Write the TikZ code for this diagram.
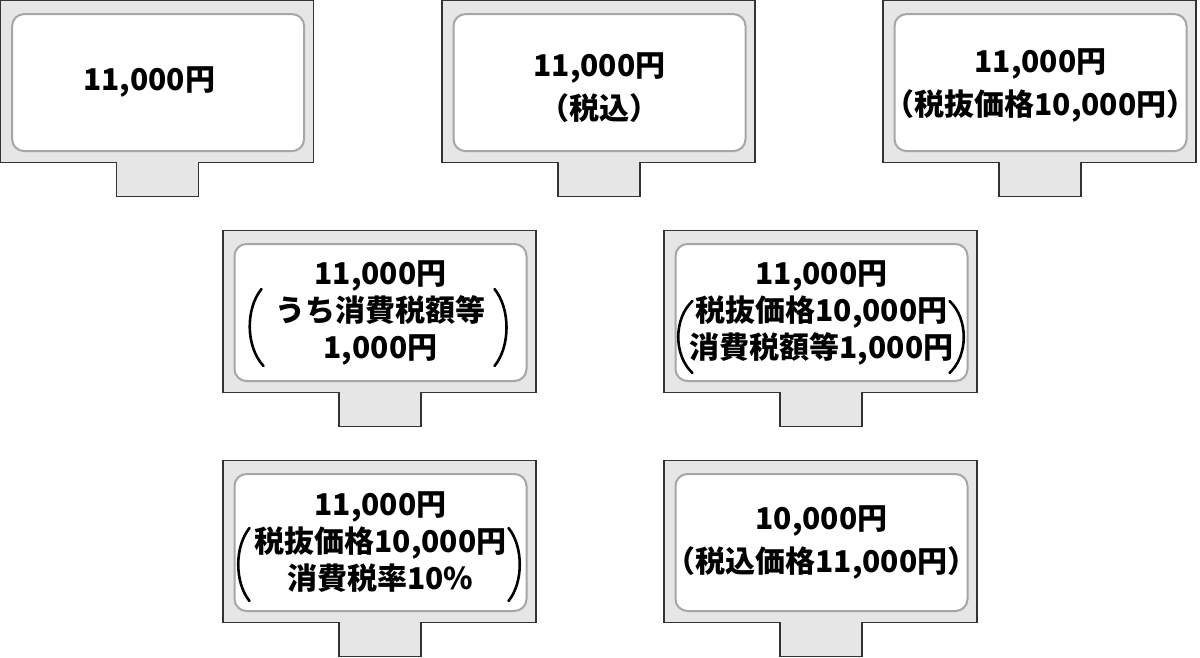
\documentclass[tikz,border=0pt]{standalone}
\usepackage{fontspec}
\setmainfont{Noto Sans CJK JP}
\definecolor{signfill}{HTML}{E6E6E6}
\definecolor{signline}{HTML}{333333}
\definecolor{faceline}{HTML}{A6A6A6}
\tikzset{
  signbody/.style={fill=signfill,draw=signline,line width=1.2pt},
  signface/.style={draw=faceline,fill=white,line width=2pt,rounded corners=12pt,
     minimum width=292pt,minimum height=137pt,inner sep=0pt,anchor=north west},
  pricetext/.style={align=center,font=\fontsize{30}{43}\selectfont\bfseries,inner sep=0pt},
  pricetextiii/.style={align=center,font=\fontsize{30}{37}\selectfont\bfseries,inner sep=0pt},
  paren/.style={line width=2.6pt,line cap=round}
}
\newcommand\pricesign[3]{%
  \begin{scope}[shift={(#2,#3)}]
    \path[signbody] (0,0) -- (313,0) -- (313,162) -- (198,162) -- (198,196)
       -- (116,196) -- (116,162) -- (0,162) -- cycle;
    \node[signface] (#1) at (10.5,12.5) {};
  \end{scope}}
\begin{document}
\begin{tikzpicture}[x=1pt,y=-1pt]
\useasboundingbox (0,0) rectangle (1200,657);
\pricesign{s1}{0.6}{0.6}
\pricesign{s2}{442}{0.6}
\pricesign{s3}{883}{0.6}
\pricesign{s4}{223}{230.5}
\pricesign{s5}{664}{230.5}
\pricesign{s6}{223}{460.5}
\pricesign{s7}{664}{460.5}

\node[pricetext,yshift=1pt,xshift=-9pt] (t1) at (s1.center) {11,000円};
\node[pricetext,yshift=-5pt] (t2) at (s2.center) {11,000円\\（税込）};
\node[pricetext,yshift=-3pt] (t3) at (s3.center) {11,000円\\（税抜価格10,000円）};
\node[pricetextiii] (t4) at (s4.center) {11,000円\\うち消費税額等\\1,000円};
\node[pricetextiii] (t5) at (s5.center) {11,000円\\税抜価格10,000円\\消費税額等1,000円};
\node[pricetextiii] (t6) at (s6.center) {11,000円\\税抜価格10,000円\\消費税率10\%};
\node[pricetext] (t7) at (s7.center) {10,000円\\（税込価格11,000円）};

\begin{scope}[shift={(s4.center)}]
  \draw[paren] (-119,-23.5) .. controls (-135,-4) and (-135,34) .. (-117,53.5);
  \draw[paren] (114,-23.5) .. controls (130,-4) and (130,34) .. (114,53.5);
\end{scope}
\begin{scope}[shift={(s5.center)}]
  \draw[paren] (-129,-11.5) .. controls (-148,6) and (-148,43) .. (-129,60.5);
  \draw[paren] (128,-11.5) .. controls (147,6) and (147,43) .. (128,60.5);
\end{scope}
\begin{scope}[shift={(s6.center)}]
  \draw[paren] (-131,-14.5) .. controls (-146,4) and (-146,40) .. (-131,58.5);
  \draw[paren] (128,-14.5) .. controls (143,4) and (143,40) .. (128,58.5);
\end{scope}
\end{tikzpicture}
\end{document}
